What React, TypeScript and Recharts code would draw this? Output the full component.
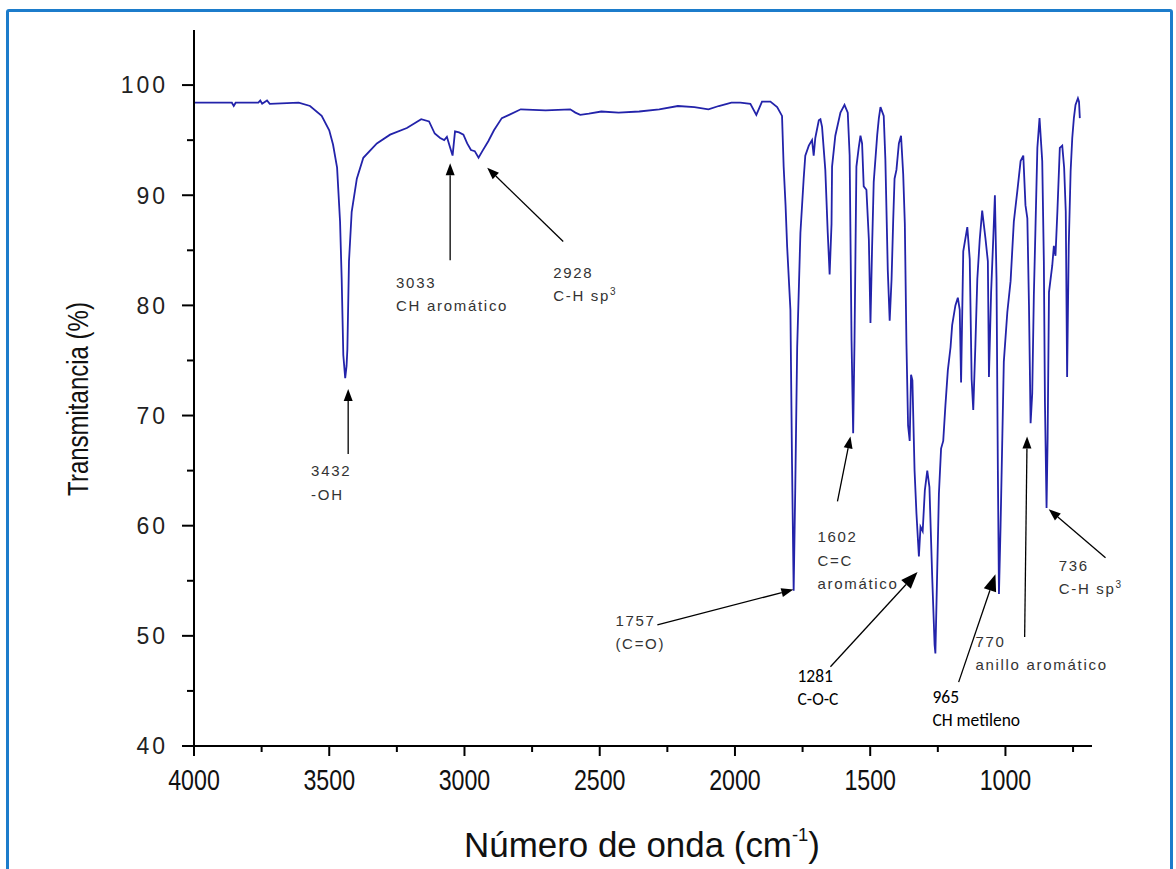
import React from 'react';
import { LineChart, Line, XAxis, YAxis, ReferenceLine, ReferenceDot, Label } from 'recharts';

// ---------- data ----------
const wavenumbers = [
  4000, 3860, 3853, 3846, 3762, 3755, 3748, 3730, 3720, 3613, 3571, 3528, 3500, 3486, 3471, 3460,
  3454, 3448, 3441, 3436, 3433, 3427, 3417, 3398, 3374, 3324, 3275, 3213, 3160, 3131, 3110, 3090,
  3075, 3065, 3054, 3044, 3035, 3020, 3004, 2990, 2976, 2962, 2948, 2934, 2912, 2891, 2862, 2835,
  2792, 2700, 2609, 2590, 2572, 2540, 2494, 2430, 2354, 2280, 2211, 2150, 2098, 2060, 2013, 1980,
  1943, 1921, 1900, 1869,
  1844, 1826, 1820, 1813, 1807, 1795, 1789, 1783, 1777, 1770, 1758, 1746, 1740, 1727, 1715, 1709,
  1703, 1690, 1684, 1678, 1666, 1657, 1650, 1643, 1641, 1629, 1610, 1595, 1583, 1576, 1569, 1563,
  1558, 1551, 1542, 1536, 1530, 1524, 1514, 1505, 1499, 1493, 1487, 1474, 1468, 1462, 1450, 1444,
  1435, 1428, 1421, 1415, 1410, 1403, 1394, 1386, 1378, 1372, 1366, 1360, 1354, 1349, 1344, 1336,
  1329, 1320, 1314, 1306, 1298, 1289, 1281, 1271, 1262, 1259, 1252, 1246, 1238, 1230, 1222, 1213,
  1203, 1197, 1185, 1176, 1169, 1164, 1156, 1141, 1132, 1125, 1119, 1111, 1104, 1095, 1086, 1074,
  1065, 1061, 1053, 1045, 1039, 1033, 1028, 1024, 1018, 1006, 993, 981, 969, 956, 944, 934,
  926, 919, 913, 907, 901, 895, 889, 882, 874, 864, 858, 854, 848, 844, 839, 827,
  821, 815, 808, 799, 790, 783, 777, 772, 766, 759, 753, 747, 741, 732, 728, 725,
];

const transmittance = [
  98.4, 98.4, 98.1, 98.4, 98.4, 98.6, 98.3, 98.6, 98.3, 98.4, 98.1, 97.2, 95.9, 94.6, 92.5, 87.6,
  82.4, 75.5, 73.4, 74.5, 76.0, 84.0, 88.5, 91.5, 93.4, 94.7, 95.5, 96.1, 96.9, 96.7, 95.6, 95.2,
  95.0, 95.3, 94.4, 93.6, 95.8, 95.7, 95.5, 94.7, 94.1, 94.0, 93.4, 94.0, 94.9, 95.9, 97.0, 97.3,
  97.8, 97.7, 97.8, 97.5, 97.3, 97.4, 97.6, 97.5, 97.6, 97.8, 98.1, 98.0, 97.8, 98.1, 98.4, 98.4,
  98.3, 97.3, 98.5, 98.5,
  98.0, 97.2, 92.6, 89.1, 85.3, 79.6, 65.6, 54.1, 63.5, 76.2, 86.6, 91.5, 93.6, 94.5, 95.0, 93.6,
  95.2, 96.8, 96.9, 96.2, 92.3, 86.6, 82.8, 87.4, 92.6, 95.4, 97.5, 98.2, 97.5, 93.6, 76.8, 68.4,
  76.8, 92.6, 94.4, 95.4, 94.7, 90.8, 90.5, 86.0, 78.4, 85.3, 91.2, 95.5, 97.0, 98.0, 97.2, 93.3,
  83.2, 78.6, 82.4, 87.7, 91.5, 92.3, 94.7, 95.4, 91.9, 87.4, 76.5, 69.1, 67.7, 73.7, 73.2, 65.0,
  61.1, 57.2, 59.9, 59.5, 63.2, 65.0, 63.5, 55.5, 49.2, 48.4, 56.2, 62.9, 67.0, 67.7, 70.9, 74.1,
  76.2, 78.2, 80.0, 80.7, 79.6, 73.0, 84.9, 87.1, 84.2, 73.3, 70.5, 76.5, 82.4, 86.0, 88.6, 86.1,
  84.0, 73.5, 81.2, 86.1, 90.0, 82.4, 65.0, 53.8, 60.0, 74.9, 79.4, 82.2, 87.6, 90.4, 93.1, 93.6,
  89.1, 87.9, 80.0, 69.3, 72.0, 80.9, 87.0, 94.3, 97.0, 93.1, 84.0, 71.2, 61.6, 68.0, 81.2, 83.6,
  85.4, 84.5, 88.5, 94.3, 94.5, 92.5, 88.5, 73.5, 85.4, 92.2, 95.2, 97.0, 98.2, 98.8, 98.5, 97.0,
];

const xTicks = [4000, 3750, 3500, 3250, 3000, 2750, 2500, 2250, 2000, 1750, 1500, 1250, 1000, 750];
const xMajorTicks = [4000, 3500, 3000, 2500, 2000, 1500, 1000];
const yTicks = [40, 45, 50, 55, 60, 65, 70, 75, 80, 85, 90, 95, 100];
const yMajorTicks = [40, 50, 60, 70, 80, 90, 100];

const xTitle = 'Número de onda (cm';
const xTitleSup = '-1';
const yTitle = 'Transmitancia (%)';

// annotation texts: anchor = wavenumber / transmittance of first line (left, baseline)
const noteTexts = [
  { key: 'oh', kind: 'a', wn: 3567, t: 64.5, lines: ['3432', '-OH'] },
  { key: 'char', kind: 'a', wn: 3253, t: 81.6, lines: ['3033', 'CH aromático'] },
  { key: 'chsp3a', kind: 'a', wn: 2672, t: 82.5, lines: ['2928', 'C-H sp^3'] },
  { key: 'co', kind: 'a', wn: 2442, t: 50.9, lines: ['1757', '(C=O)'] },
  { key: 'cc', kind: 'a', wn: 1695, t: 58.5, lines: ['1602', 'C=C', 'aromático'] },
  { key: 'coc', kind: 'b', wn: 1769, t: 45.8, lines: ['1281', 'C-O-C'] },
  { key: 'met', kind: 'b', wn: 1270, t: 43.9, lines: ['965', 'CH metileno'] },
  { key: 'ring', kind: 'a', wn: 1111, t: 49.0, lines: ['770', 'anillo aromático'] },
  { key: 'chsp3b', kind: 'a', wn: 803, t: 55.9, lines: ['736', 'C-H sp^3'] },
];

const noteArrows = [
  { key: 'oh', kind: 'a', from: [3430, 66.5], to: [3430, 72.4] },
  { key: 'char', kind: 'a', from: [3053, 84.1], to: [3053, 92.9] },
  { key: 'chsp3a', kind: 'a', from: [2635, 85.8], to: [2916, 92.5] },
  { key: 'co', kind: 'a', from: [2287, 51.0], to: [1784, 54.2] },
  { key: 'cc', kind: 'a', from: [1621, 62.2], to: [1573, 68.1] },
  { key: 'coc', kind: 'b', from: [1647, 47.2], to: [1325, 55.8] },
  { key: 'met', kind: 'b', from: [1173, 45.8], to: [1037, 55.6] },
  { key: 'ring', kind: 'a', from: [929, 49.9], to: [920, 68.1] },
  { key: 'chsp3b', kind: 'a', from: [630, 57.1], to: [840, 61.5] },
];

const spectrum = wavenumbers.map((wn, i) => ({ wn, t: transmittance[i] }));

// ---------- styles ----------
const ARIAL = "'Liberation Sans', Arial, Helvetica, sans-serif";
const CALIBRI = "Carlito, Lato, 'Open Sans', sans-serif";

const XTick = (props: any) => {
  const { x, y, payload } = props;
  const major = xMajorTicks.includes(payload.value);
  return (
    <g>
      <line x1={x} y1={y} x2={x} y2={y + (major ? 10 : 6)} stroke="#000" strokeWidth={2} />
      {major && (
        <text
          transform={`translate(${x},${y + 44}) scale(0.8,1)`}
          textAnchor="middle"
          fontFamily={ARIAL}
          fontSize={29}
          fill="#111"
        >
          {payload.value}
        </text>
      )}
    </g>
  );
};

const YTick = (props: any) => {
  const { x, y, payload } = props;
  const major = yMajorTicks.includes(payload.value);
  return (
    <g>
      <line x1={x} y1={y} x2={x - (major ? 12 : 7)} y2={y} stroke="#000" strokeWidth={2} />
      {major && (
        <text
          x={x - 26}
          y={y}
          dy="0.36em"
          textAnchor="end"
          fontFamily={ARIAL}
          fontSize={23}
          letterSpacing={3}
          fill="#222"
        >
          {payload.value}
        </text>
      )}
    </g>
  );
};

const renderLine = (text: string, small: number) => {
  const parts = text.split('^');
  if (parts.length === 1) return text;
  return (
    <>
      {parts[0]}
      <tspan dy={-6} fontSize={small}>{parts[1]}</tspan>
    </>
  );
};

const makeNote = (lines: string[], kind: string) => (p: any) => {
  const { cx, cy } = p;
  const a = kind === 'a';
  const lh = a ? 23.5 : 22.5;
  return (
    <text
      fontFamily={a ? ARIAL : CALIBRI}
      fontSize={a ? 15 : 17.5}
      letterSpacing={a ? 1.7 : 0}
      fill={a ? '#333' : '#000'}
    >
      {lines.map((ln, i) => (
        <tspan key={i} x={cx} y={cy + i * lh}>
          {renderLine(ln, 10)}
        </tspan>
      ))}
    </text>
  );
};

const makeArrow = (kind: string) => (p: any) => {
  const { x1, y1, x2, y2 } = p;
  const big = kind === 'b';
  const ang = Math.atan2(y2 - y1, x2 - x1);
  const L = big ? 17 : 12;
  const W = big ? 6.5 : 4.5;
  const bx = x2 - L * Math.cos(ang);
  const by = y2 - L * Math.sin(ang);
  const px = -Math.sin(ang) * W;
  const py = Math.cos(ang) * W;
  return (
    <g>
      <line x1={x1} y1={y1} x2={bx} y2={by} stroke="#000" strokeWidth={1.3} />
      <polygon points={`${x2},${y2} ${bx + px},${by + py} ${bx - px},${by - py}`} fill="#000" />
    </g>
  );
};

const YTitle = (props: any) => {
  const vb = props.viewBox || { x: 94, y: 30, width: 100, height: 716 };
  const cx = vb.x - 16;
  const cy = vb.y + vb.height / 2 + 11;
  return (
    <text
      transform={`translate(${cx},${cy}) rotate(-90) scale(0.8,1)`}
      textAnchor="middle"
      dominantBaseline="central"
      fontFamily={ARIAL}
      fontSize={30}
      fill="#111"
    >
      {yTitle}
    </text>
  );
};

const XTitle = (props: any) => {
  const vb = props.viewBox || { x: 194, y: 746, width: 898, height: 60 };
  const cx = vb.x + 448;
  const cy = vb.y + 111;
  return (
    <text
      transform={`translate(${cx},${cy}) scale(0.97,1)`}
      textAnchor="middle"
      fontFamily={ARIAL}
      fontSize={36}
      fill="#111"
    >
      {xTitle}
      <tspan dy={-16} fontSize={19}>{xTitleSup}</tspan>
      <tspan dy={16} fontSize={36}>)</tspan>
    </text>
  );
};

export default function App() {
  return (
    <div
      style={{
        position: 'absolute',
        left: 0,
        top: 0,
        width: 1176,
        height: 869,
        overflow: 'hidden',
        background: '#fff',
      }}
    >
      <div
        style={{
          position: 'absolute',
          left: 6,
          top: 9,
          width: 1161,
          height: 900,
          border: '3px solid #1C7CCB',
          borderRadius: 3,
        }}
      />
      <div style={{ position: 'absolute', left: 0, top: 0 }}>
        <LineChart
          width={1176}
          height={869}
          data={spectrum}
          margin={{ top: 30, right: 84, bottom: 63, left: 94 }}
        >
          <XAxis
            type="number"
            dataKey="wn"
            domain={[680, 4000]}
            reversed
            allowDataOverflow
            ticks={xTicks}
            interval={0}
            tick={XTick}
            tickLine={false}
            tickSize={0}
            tickMargin={0}
            height={60}
            axisLine={{ stroke: '#000', strokeWidth: 2 }}
          >
            <Label content={XTitle} />
          </XAxis>
          <YAxis
            type="number"
            domain={[40, 105]}
            allowDataOverflow
            ticks={yTicks}
            interval={0}
            tick={YTick}
            tickLine={false}
            tickSize={0}
            tickMargin={0}
            width={100}
            axisLine={{ stroke: '#000', strokeWidth: 2 }}
          >
            <Label content={YTitle} />
          </YAxis>
          <Line
            type="linear"
            dataKey="t"
            stroke="#2323AA"
            strokeWidth={1.8}
            dot={false}
            activeDot={false}
            isAnimationActive={false}
          />
          {noteArrows.map((a) => (
            <ReferenceLine
              key={`arrow-${a.key}`}
              segment={[
                { x: a.from[0], y: a.from[1] },
                { x: a.to[0], y: a.to[1] },
              ]}
              ifOverflow="visible"
              shape={makeArrow(a.kind)}
            />
          ))}
          {noteTexts.map((n) => (
            <ReferenceDot
              key={`note-${n.key}`}
              x={n.wn}
              y={n.t}
              r={0}
              ifOverflow="visible"
              shape={makeNote(n.lines, n.kind)}
            />
          ))}
        </LineChart>
      </div>
    </div>
  );
}
